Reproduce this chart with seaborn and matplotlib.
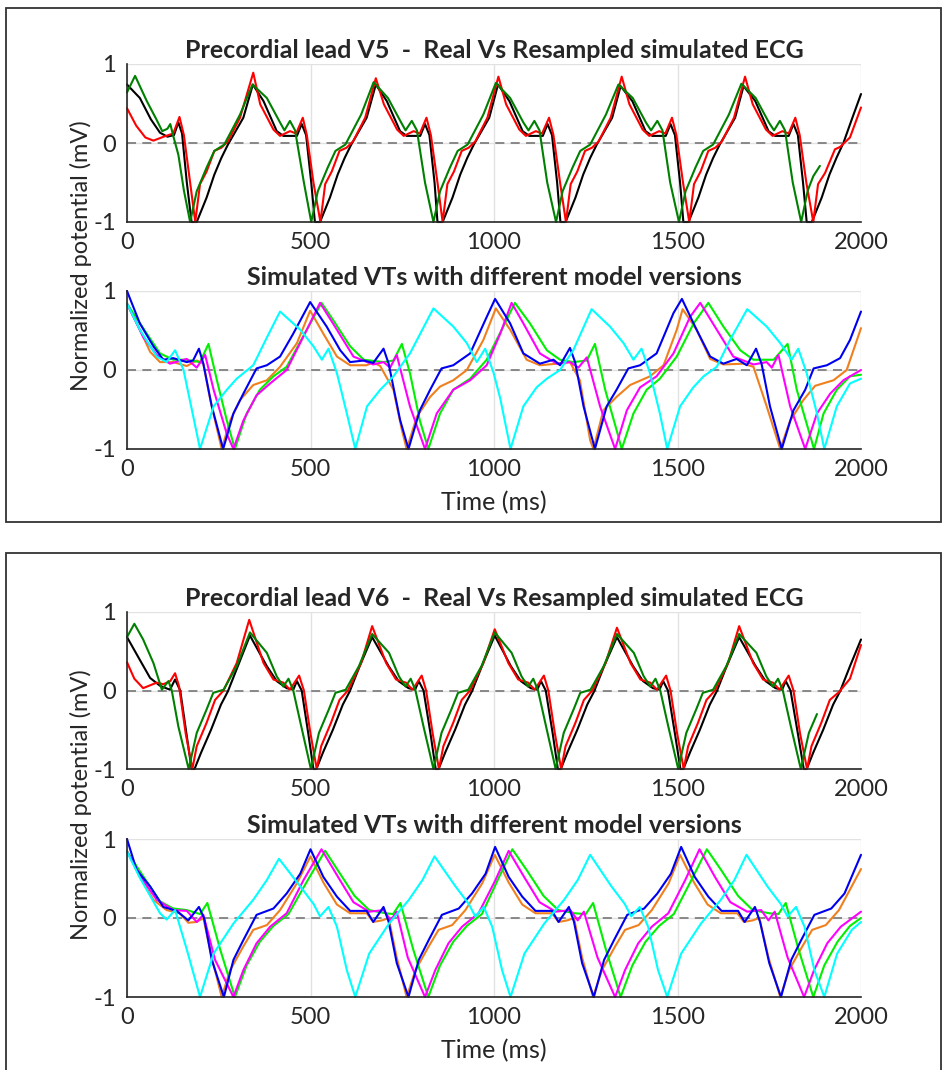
import pandas as pd
import seaborn as sns
import matplotlib.pyplot as plt
from matplotlib.patches import Rectangle

# ---- lead V5, real vs resampled simulated ECG (time ms, normalized mV) ----
V5_BLACK = [(0, 0.74), (35, 0.57), (65, 0.30), (90, 0.13), (110, 0.08), (128, 0.10), (140, 0.26), (150, 0.12), (163, -0.50), (176, -1.00), (190, -1.00),
            (217, -0.69), (238, -0.40), (257, -0.19), (275, -0.02), (317, 0.32), (343, 0.74), (372, 0.53), (408, 0.15), (426, 0.09), (463, 0.09), (476, 0.24), (488, 0.10), (502, -0.50), (512, -1.00), (526, -1.00),
            (553, -0.69), (574, -0.40), (593, -0.19), (611, -0.02), (653, 0.32), (678, 0.74), (708, 0.53), (744, 0.15), (762, 0.09), (799, 0.09), (812, 0.24), (824, 0.10), (838, -0.50), (846, -1.00), (860, -1.00),
            (887, -0.69), (908, -0.40), (927, -0.19), (945, -0.02), (987, 0.32), (1011, 0.74), (1042, 0.53), (1078, 0.15), (1096, 0.09), (1133, 0.09), (1146, 0.24), (1158, 0.10), (1172, -0.50), (1181, -1.00), (1195, -1.00),
            (1222, -0.69), (1243, -0.40), (1262, -0.19), (1280, -0.02), (1322, 0.32), (1345, 0.72), (1377, 0.53), (1413, 0.15), (1431, 0.09), (1468, 0.09), (1481, 0.24), (1493, 0.10), (1507, -0.50), (1516, -1.00), (1530, -1.00),
            (1557, -0.69), (1578, -0.40), (1597, -0.19), (1615, -0.02), (1657, 0.32), (1680, 0.72), (1712, 0.53), (1748, 0.15), (1766, 0.09), (1803, 0.09), (1816, 0.24), (1828, 0.10), (1842, -0.50), (1852, -1.00), (1866, -1.00),
            (1893, -0.69), (1914, -0.40), (1933, -0.19), (1952, 0.00), (1975, 0.30), (2000, 0.62)]
V5_RED = [(0, 0.44), (25, 0.22), (50, 0.07), (72, 0.03), (100, 0.08), (126, 0.12), (143, 0.33), (155, 0.10), (172, -0.50), (186, -1.00),
          (199, -0.52), (217, -0.36), (238, -0.10), (257, -0.06), (275, 0.02), (308, 0.32), (344, 0.89), (363, 0.49), (399, 0.17), (417, 0.09), (444, 0.15), (461, 0.12), (479, 0.32), (490, 0.10), (508, -0.50), (527, -1.00),
          (540, -0.52), (558, -0.36), (579, -0.10), (598, -0.06), (616, 0.02), (649, 0.32), (678, 0.82), (700, 0.49), (736, 0.17), (754, 0.09), (781, 0.15), (798, 0.12), (816, 0.32), (828, 0.10), (846, -0.50), (860, -1.00),
          (873, -0.52), (891, -0.36), (912, -0.10), (931, -0.06), (949, 0.02), (982, 0.32), (1012, 0.84), (1033, 0.49), (1069, 0.17), (1087, 0.09), (1114, 0.15), (1131, 0.12), (1150, 0.32), (1162, 0.10), (1180, -0.50), (1196, -1.00),
          (1209, -0.52), (1227, -0.36), (1248, -0.10), (1267, -0.06), (1285, 0.02), (1318, 0.32), (1348, 0.84), (1369, 0.49), (1405, 0.17), (1423, 0.09), (1450, 0.15), (1467, 0.12), (1485, 0.32), (1497, 0.10), (1515, -0.50), (1532, -1.00),
          (1545, -0.52), (1563, -0.36), (1584, -0.10), (1603, -0.06), (1621, 0.02), (1654, 0.32), (1684, 0.84), (1705, 0.49), (1741, 0.17), (1759, 0.09), (1786, 0.15), (1803, 0.12), (1821, 0.32), (1833, 0.10), (1851, -0.50), (1870, -1.00),
          (1883, -0.52), (1902, -0.38), (1929, -0.08), (1943, -0.05), (1970, 0.07), (2000, 0.45)]
V5_GREEN = [(0, 0.64), (22, 0.85), (54, 0.53), (80, 0.30), (96, 0.15), (110, 0.18), (118, 0.24), (126, 0.09), (140, -0.15), (155, -0.60), (172, -1.00),
            (190, -0.61), (217, -0.31), (238, -0.10), (265, -0.02), (308, 0.36), (342, 0.74), (381, 0.57), (417, 0.26), (429, 0.16), (444, 0.28), (458, 0.16), (482, -0.50), (502, -1.00),
            (520, -0.61), (547, -0.31), (568, -0.10), (595, -0.02), (638, 0.36), (672, 0.77), (711, 0.57), (747, 0.26), (759, 0.16), (776, 0.28), (790, 0.16), (812, -0.50), (835, -1.00),
            (853, -0.61), (880, -0.31), (901, -0.10), (928, -0.02), (971, 0.36), (1005, 0.76), (1044, 0.57), (1080, 0.26), (1094, 0.16), (1110, 0.28), (1124, 0.16), (1145, -0.50), (1169, -1.00),
            (1187, -0.61), (1214, -0.31), (1235, -0.10), (1262, -0.02), (1305, 0.36), (1339, 0.74), (1378, 0.57), (1414, 0.26), (1428, 0.16), (1445, 0.28), (1459, 0.16), (1480, -0.50), (1504, -1.00),
            (1522, -0.61), (1549, -0.31), (1570, -0.10), (1597, -0.02), (1640, 0.36), (1674, 0.75), (1713, 0.57), (1749, 0.26), (1763, 0.16), (1779, 0.28), (1793, 0.16), (1814, -0.50), (1837, -1.00),
            (1855, -0.60), (1870, -0.42), (1888, -0.29)]

# ---- lead V5, simulated VTs with different model versions ----
V5_BLUE = [(0, 1.00), (35, 0.59), (72, 0.30), (99, 0.13), (126, 0.15), (163, 0.10), (180, 0.12), (196, 0.27), (208, 0.08), (231, -0.46), (262, -1.00),
           (290, -0.55), (317, -0.30), (353, 0.02), (381, 0.06), (417, 0.17), (453, 0.46), (499, 0.86), (544, 0.55), (581, 0.25), (608, 0.10), (645, 0.12), (671, 0.09), (699, 0.27), (713, 0.08), (744, -0.63), (767, -1.00),
           (798, -0.51), (826, -0.25), (857, 0.02), (889, 0.06), (935, 0.21), (980, 0.67), (1003, 0.90), (1044, 0.59), (1080, 0.21), (1125, 0.08), (1162, 0.13), (1180, 0.06), (1207, 0.28), (1221, 0.10), (1244, -0.46), (1275, -1.00),
           (1307, -0.46), (1334, -0.25), (1366, 0.02), (1398, 0.06), (1443, 0.21), (1489, 0.72), (1512, 0.90), (1552, 0.51), (1589, 0.17), (1625, 0.08), (1661, 0.14), (1689, 0.06), (1714, 0.27), (1729, 0.08), (1752, -0.46), (1784, -1.00),
           (1816, -0.51), (1848, -0.25), (1871, 0.02), (1907, 0.06), (1943, 0.15), (1970, 0.38), (2000, 0.74)]
V5_ORANGE = [(0, 0.84), (35, 0.51), (63, 0.23), (90, 0.10), (126, 0.10), (163, 0.05), (190, 0.12), (208, 0.08), (227, -0.38), (258, -1.00),
             (281, -0.64), (308, -0.38), (344, -0.19), (381, -0.13), (417, 0.04), (463, 0.34), (499, 0.75), (535, 0.46), (572, 0.17), (608, 0.06), (653, 0.06), (671, 0.10), (690, 0.05), (726, -0.25), (749, -0.76), (762, -1.00),
             (790, -0.59), (826, -0.34), (853, -0.21), (889, -0.13), (926, 0.00), (971, 0.38), (1005, 0.78), (1044, 0.51), (1089, 0.13), (1125, 0.06), (1171, 0.08), (1207, 0.10), (1234, -0.13), (1262, -0.89), (1271, -1.00),
             (1298, -0.51), (1334, -0.34), (1371, -0.19), (1425, -0.08), (1462, 0.06), (1498, 0.51), (1514, 0.77), (1552, 0.51), (1589, 0.14), (1625, 0.07), (1680, 0.08), (1707, 0.04), (1743, -0.46), (1780, -1.00),
             (1807, -0.64), (1843, -0.38), (1875, -0.20), (1925, -0.13), (1961, 0.00), (2000, 0.53)]
V5_MAGENTA = [(0, 0.84), (44, 0.42), (81, 0.19), (117, 0.08), (163, 0.14), (190, 0.03), (213, 0.19), (236, -0.25), (272, -0.81), (290, -1.00),
              (317, -0.64), (353, -0.32), (390, -0.17), (435, 0.00), (490, 0.51), (526, 0.85), (572, 0.51), (617, 0.17), (671, 0.07), (699, 0.10), (717, 0.03), (735, 0.19), (771, -0.46), (812, -1.00),
              (844, -0.55), (889, -0.25), (935, -0.13), (980, 0.06), (1017, 0.46), (1048, 0.85), (1080, 0.59), (1125, 0.21), (1171, 0.08), (1207, 0.10), (1230, 0.03), (1253, 0.16), (1289, -0.46), (1330, -1.00),
              (1362, -0.51), (1398, -0.22), (1443, -0.08), (1489, 0.21), (1534, 0.67), (1562, 0.85), (1607, 0.51), (1652, 0.17), (1707, 0.07), (1743, 0.10), (1757, 0.03), (1775, 0.19), (1807, -0.46), (1848, -1.00),
              (1880, -0.55), (1916, -0.30), (1952, -0.13), (2000, 0.00)]
V5_LIME = [(0, 0.84), (54, 0.46), (90, 0.21), (126, 0.13), (163, 0.13), (199, 0.10), (222, 0.33), (245, -0.13), (272, -0.64), (294, -1.00),
           (326, -0.55), (362, -0.25), (399, -0.08), (435, 0.04), (490, 0.51), (530, 0.85), (562, 0.63), (608, 0.30), (645, 0.13), (699, 0.10), (726, 0.12), (749, 0.33), (771, -0.04), (798, -0.64), (821, -1.00),
           (853, -0.55), (889, -0.25), (935, -0.11), (980, 0.13), (1020, 0.50), (1057, 0.85), (1098, 0.59), (1144, 0.25), (1180, 0.13), (1216, 0.10), (1253, 0.12), (1275, 0.33), (1303, -0.25), (1334, -0.76), (1348, -1.00),
           (1380, -0.55), (1416, -0.25), (1452, -0.11), (1498, 0.17), (1544, 0.59), (1584, 0.85), (1625, 0.55), (1671, 0.25), (1707, 0.13), (1762, 0.13), (1800, 0.33), (1825, -0.25), (1857, -0.76), (1872, -1.00),
           (1898, -0.55), (1934, -0.25), (1970, -0.08), (2000, -0.06)]
V5_CYAN = [(0, 0.84), (35, 0.51), (81, 0.17), (108, 0.10), (131, 0.25), (154, 0.00), (177, -0.51), (199, -1.00),
           (236, -0.46), (272, -0.25), (299, -0.11), (344, 0.06), (381, 0.41), (417, 0.74), (472, 0.51), (508, 0.30), (531, 0.13), (549, 0.27), (572, -0.04), (599, -0.55), (622, -1.00),
           (654, -0.46), (690, -0.25), (726, -0.08), (771, 0.21), (835, 0.78), (889, 0.55), (926, 0.34), (953, 0.10), (976, 0.27), (999, -0.04), (1017, -0.36), (1045, -1.00),
           (1080, -0.46), (1116, -0.22), (1144, -0.11), (1180, 0.00), (1216, 0.25), (1266, 0.77), (1316, 0.55), (1353, 0.34), (1380, 0.13), (1402, 0.27), (1425, -0.04), (1452, -0.55), (1472, -1.00),
           (1507, -0.46), (1543, -0.22), (1571, -0.08), (1607, 0.04), (1643, 0.38), (1690, 0.77), (1743, 0.55), (1780, 0.34), (1811, 0.13), (1829, 0.27), (1852, -0.04), (1880, -0.55), (1900, -1.00),
           (1934, -0.46), (1970, -0.17), (2000, -0.11)]

# ---- lead V6, real vs resampled simulated ECG ----
V6_BLACK = [(0, 0.68), (35, 0.39), (63, 0.16), (90, 0.06), (117, 0.01), (131, 0.14), (145, 0.00), (162, -0.55), (176, -1.00), (184, -1.00),
            (202, -0.79), (229, -0.50), (256, -0.18), (275, -0.01), (302, 0.31), (335, 0.70), (381, 0.31), (408, 0.12), (435, 0.03), (453, 0.01), (463, 0.12), (476, 0.00), (494, -0.55), (508, -1.00), (516, -1.00),
            (534, -0.79), (561, -0.50), (588, -0.18), (607, -0.01), (634, 0.31), (668, 0.68), (713, 0.31), (740, 0.12), (767, 0.03), (785, 0.01), (795, 0.12), (808, 0.00), (827, -0.55), (841, -1.00), (849, -1.00),
            (867, -0.79), (894, -0.50), (921, -0.18), (940, -0.01), (967, 0.31), (1002, 0.70), (1046, 0.31), (1073, 0.12), (1100, 0.03), (1118, 0.01), (1128, 0.12), (1141, 0.00), (1160, -0.55), (1174, -1.00), (1182, -1.00),
            (1200, -0.79), (1227, -0.50), (1254, -0.18), (1273, -0.01), (1300, 0.31), (1335, 0.68), (1379, 0.31), (1406, 0.12), (1433, 0.03), (1451, 0.01), (1461, 0.12), (1474, 0.00), (1493, -0.55), (1508, -1.00), (1516, -1.00),
            (1534, -0.79), (1561, -0.50), (1588, -0.18), (1607, -0.01), (1634, 0.31), (1668, 0.68), (1713, 0.31), (1740, 0.12), (1767, 0.03), (1785, 0.01), (1795, 0.12), (1808, 0.00), (1828, -0.55), (1844, -1.00), (1852, -1.00),
            (1870, -0.79), (1897, -0.50), (1924, -0.18), (1943, -0.01), (1970, 0.31), (2000, 0.65)]
V6_RED = [(0, 0.36), (20, 0.15), (44, 0.03), (81, 0.10), (99, 0.08), (118, 0.12), (131, 0.22), (142, 0.05), (160, -0.55), (178, -1.00),
          (190, -0.71), (217, -0.41), (240, -0.12), (263, 0.00), (299, 0.35), (333, 0.90), (372, 0.35), (399, 0.14), (426, 0.10), (444, 0.01), (469, 0.19), (482, 0.00), (500, -0.55), (517, -1.00),
          (529, -0.71), (556, -0.41), (579, -0.12), (602, 0.00), (638, 0.35), (668, 0.82), (706, 0.35), (733, 0.14), (760, 0.10), (778, 0.01), (803, 0.19), (815, 0.00), (833, -0.55), (850, -1.00),
          (862, -0.71), (889, -0.41), (912, -0.12), (935, 0.00), (971, 0.35), (1002, 0.78), (1039, 0.35), (1066, 0.14), (1093, 0.10), (1111, 0.01), (1136, 0.19), (1148, 0.00), (1166, -0.55), (1183, -1.00),
          (1195, -0.71), (1222, -0.41), (1245, -0.12), (1268, 0.00), (1304, 0.35), (1335, 0.80), (1372, 0.35), (1399, 0.14), (1426, 0.10), (1444, 0.01), (1469, 0.19), (1481, 0.00), (1499, -0.55), (1517, -1.00),
          (1529, -0.71), (1556, -0.41), (1579, -0.12), (1602, 0.00), (1638, 0.35), (1668, 0.82), (1706, 0.35), (1733, 0.14), (1760, 0.10), (1778, 0.01), (1803, 0.19), (1816, 0.00), (1834, -0.55), (1853, -1.00),
          (1865, -0.71), (1892, -0.41), (1915, -0.12), (1940, -0.02), (1970, 0.15), (2000, 0.58)]
V6_GREEN = [(0, 0.68), (20, 0.85), (44, 0.65), (72, 0.35), (95, 0.01), (113, 0.12), (122, 0.00), (140, -0.46), (168, -1.00),
            (190, -0.54), (217, -0.24), (235, -0.03), (263, 0.01), (299, 0.31), (335, 0.74), (381, 0.48), (408, 0.18), (426, 0.05), (440, 0.15), (453, 0.00), (475, -0.46), (501, -1.00),
            (523, -0.54), (550, -0.24), (568, -0.03), (596, 0.01), (632, 0.31), (668, 0.72), (714, 0.48), (741, 0.18), (759, 0.05), (773, 0.15), (786, 0.00), (808, -0.46), (835, -1.00),
            (857, -0.54), (884, -0.24), (902, -0.03), (930, 0.01), (966, 0.31), (1002, 0.74), (1048, 0.48), (1075, 0.18), (1093, 0.05), (1107, 0.15), (1120, 0.00), (1142, -0.46), (1168, -1.00),
            (1190, -0.54), (1217, -0.24), (1235, -0.03), (1263, 0.01), (1299, 0.31), (1335, 0.72), (1381, 0.48), (1408, 0.18), (1426, 0.05), (1440, 0.15), (1453, 0.00), (1475, -0.46), (1502, -1.00),
            (1524, -0.54), (1551, -0.24), (1569, -0.03), (1597, 0.01), (1633, 0.31), (1668, 0.72), (1715, 0.48), (1742, 0.18), (1760, 0.05), (1774, 0.15), (1787, 0.00), (1809, -0.46), (1836, -1.00),
            (1858, -0.54), (1880, -0.30)]

# ---- lead V6, simulated VTs with different model versions ----
V6_BLUE = [(0, 1.00), (26, 0.61), (63, 0.40), (99, 0.14), (135, 0.09), (167, -0.03), (196, 0.14), (210, 0.00), (231, -0.53), (264, -1.00),
           (290, -0.53), (317, -0.28), (353, 0.04), (399, 0.12), (435, 0.31), (472, 0.56), (500, 0.87), (535, 0.52), (572, 0.27), (608, 0.09), (653, 0.09), (671, -0.05), (699, 0.14), (713, -0.05), (735, -0.57), (767, -1.00),
           (795, -0.53), (822, -0.28), (858, 0.04), (904, 0.12), (940, 0.31), (977, 0.56), (1003, 0.90), (1040, 0.52), (1077, 0.27), (1113, 0.09), (1158, 0.09), (1176, -0.05), (1204, 0.14), (1218, -0.05), (1240, -0.57), (1272, -1.00),
           (1300, -0.53), (1327, -0.28), (1363, 0.04), (1409, 0.12), (1445, 0.31), (1482, 0.56), (1510, 0.90), (1547, 0.52), (1584, 0.27), (1620, 0.09), (1665, 0.09), (1683, -0.05), (1711, 0.14), (1725, -0.05), (1750, -0.57), (1782, -1.00),
           (1810, -0.53), (1837, -0.28), (1873, 0.04), (1919, 0.12), (1955, 0.31), (2000, 0.80)]
V6_ORANGE = [(0, 0.85), (35, 0.52), (72, 0.23), (108, 0.10), (144, 0.06), (167, -0.06), (190, -0.05), (208, 0.00), (231, -0.50), (258, -1.00),
             (281, -0.66), (317, -0.36), (344, -0.15), (381, -0.09), (417, 0.10), (463, 0.44), (500, 0.78), (535, 0.45), (572, 0.17), (608, 0.06), (653, 0.06), (671, -0.05), (695, -0.03), (713, 0.00), (735, -0.50), (762, -1.00),
             (786, -0.66), (822, -0.36), (849, -0.15), (886, -0.09), (922, 0.10), (968, 0.44), (1002, 0.80), (1040, 0.45), (1077, 0.17), (1113, 0.06), (1158, 0.06), (1176, -0.05), (1200, -0.03), (1218, 0.00), (1240, -0.50), (1270, -1.00),
             (1294, -0.66), (1330, -0.36), (1357, -0.15), (1394, -0.09), (1430, 0.10), (1476, 0.44), (1507, 0.80), (1545, 0.45), (1582, 0.17), (1618, 0.06), (1663, 0.06), (1681, -0.05), (1705, -0.03), (1723, 0.00), (1748, -0.50), (1780, -1.00),
             (1804, -0.66), (1840, -0.36), (1867, -0.15), (1904, -0.09), (1940, 0.10), (2000, 0.62)]
V6_MAGENTA = [(0, 0.84), (44, 0.48), (81, 0.23), (126, 0.10), (163, 0.09), (190, -0.05), (208, 0.04), (240, -0.53), (290, -1.00),
              (317, -0.66), (353, -0.32), (390, -0.11), (435, 0.06), (481, 0.48), (530, 0.87), (575, 0.52), (617, 0.20), (660, 0.08), (700, 0.10), (718, -0.03), (735, 0.08), (765, -0.50), (812, -1.00),
              (840, -0.66), (876, -0.32), (913, -0.11), (958, 0.06), (1004, 0.48), (1040, 0.85), (1082, 0.52), (1124, 0.20), (1168, 0.08), (1208, 0.10), (1228, -0.03), (1245, 0.08), (1282, -0.50), (1330, -1.00),
              (1357, -0.66), (1393, -0.32), (1430, -0.11), (1475, 0.06), (1521, 0.48), (1560, 0.87), (1602, 0.52), (1644, 0.20), (1690, 0.08), (1728, 0.10), (1748, -0.03), (1765, 0.08), (1800, -0.50), (1845, -1.00),
              (1872, -0.66), (1908, -0.32), (1945, -0.11), (2000, 0.08)]
V6_LIME = [(0, 0.84), (54, 0.46), (90, 0.21), (126, 0.12), (163, 0.10), (199, 0.05), (219, 0.19), (254, -0.40), (294, -1.00),
           (326, -0.60), (362, -0.30), (399, -0.10), (440, 0.05), (495, 0.50), (540, 0.85), (575, 0.60), (620, 0.28), (660, 0.10), (705, 0.06), (725, 0.05), (745, 0.19), (780, -0.40), (821, -1.00),
           (853, -0.60), (889, -0.30), (926, -0.10), (967, 0.05), (1010, 0.48), (1050, 0.87), (1090, 0.60), (1135, 0.28), (1175, 0.10), (1220, 0.06), (1250, 0.05), (1270, 0.19), (1305, -0.40), (1345, -1.00),
           (1377, -0.60), (1413, -0.30), (1450, -0.10), (1490, 0.05), (1540, 0.50), (1580, 0.87), (1620, 0.60), (1665, 0.28), (1705, 0.10), (1750, 0.06), (1775, 0.05), (1795, 0.19), (1830, -0.40), (1870, -1.00),
           (1900, -0.60), (1936, -0.30), (1970, -0.10), (2000, 0.00)]
V6_CYAN = [(0, 0.84), (35, 0.51), (90, 0.06), (108, -0.02), (131, 0.10), (163, -0.40), (199, -1.00),
           (236, -0.45), (290, -0.07), (344, 0.23), (381, 0.48), (414, 0.75), (472, 0.40), (508, 0.18), (526, 0.02), (549, 0.14), (572, -0.11), (599, -0.66), (622, -1.00),
           (660, -0.45), (714, -0.07), (768, 0.23), (805, 0.48), (838, 0.78), (895, 0.40), (931, 0.18), (949, 0.02), (972, 0.14), (995, -0.11), (1022, -0.66), (1045, -1.00),
           (1083, -0.45), (1137, -0.07), (1191, 0.23), (1228, 0.48), (1262, 0.80), (1320, 0.40), (1356, 0.18), (1374, 0.02), (1397, 0.14), (1420, -0.11), (1447, -0.66), (1472, -1.00),
           (1510, -0.45), (1564, -0.07), (1618, 0.23), (1655, 0.48), (1688, 0.80), (1745, 0.40), (1781, 0.18), (1800, 0.02), (1823, 0.14), (1846, -0.11), (1873, -0.66), (1900, -1.00),
           (1935, -0.45), (1975, -0.15), (2000, -0.05)]

TITLES = ["Precordial lead V5  -  Real Vs Resampled simulated ECG",
          "Simulated VTs with different model versions",
          "Precordial lead V6  -  Real Vs Resampled simulated ECG",
          "Simulated VTs with different model versions"]
XTICKS = [0, 500, 1000, 1500, 2000]
YTICKS = [-1, 0, 1]

COLORS = {"black": "#000000", "red": "#ff0000", "green": "#008000",
          "orange": "#f0801e", "lime": "#00f000", "magenta": "#ff00ff",
          "blue": "#0000f0", "cyan": "#00ffff"}

panels = [
    {"black": V5_BLACK, "red": V5_RED, "green": V5_GREEN},
    {"orange": V5_ORANGE, "lime": V5_LIME, "magenta": V5_MAGENTA, "blue": V5_BLUE, "cyan": V5_CYAN},
    {"black": V6_BLACK, "red": V6_RED, "green": V6_GREEN},
    {"orange": V6_ORANGE, "lime": V6_LIME, "magenta": V6_MAGENTA, "blue": V6_BLUE, "cyan": V6_CYAN},
]

sns.set_style("white")
plt.rcParams['font.family'] = ['Lato', 'DejaVu Sans']
plt.rcParams['axes.unicode_minus'] = False

W, H = 944, 1070
fig = plt.figure(figsize=(W / 100, H / 100), dpi=100)

# axes boxes in pixels: (top, bottom)
ax_px = [(64, 222), (291, 449), (612, 769), (839, 997)]
left_px, right_px = 127, 861

for i, (lines, title) in enumerate(zip(panels, TITLES)):
    top, bot = ax_px[i]
    ax = fig.add_axes([left_px / W, 1 - bot / H, (right_px - left_px) / W, (bot - top) / H])

    df = pd.DataFrame([(t, v, name) for name, pts in lines.items() for t, v in pts],
                      columns=["t", "v", "line"])
    ax.axhline(0, color="#808080", ls=(0, (5, 3.5)), lw=1.3, zorder=1)
    sns.lineplot(data=df, x="t", y="v", hue="line", hue_order=list(lines.keys()),
                 palette=COLORS, sort=False, estimator=None, legend=False,
                 lw=1.5, ax=ax)
    for ln in ax.lines:
        ln.set_clip_on(False)
        ln.set_solid_joinstyle("round")

    ax.set_xlim(0, 2000)
    ax.set_ylim(-1, 1)
    ax.set_xticks(XTICKS)
    ax.set_yticks(YTICKS)
    ax.grid(True, color="#e2e2e2", lw=1)
    ax.set_axisbelow(True)
    for s in ["top", "right"]:
        ax.spines[s].set_visible(False)
    for s in ["left", "bottom"]:
        ax.spines[s].set_color("#262626")
        ax.spines[s].set_linewidth(1.2)
    ax.tick_params(direction="in", length=5, width=1.2, labelsize=17,
                   colors="#262626", labelcolor="#262626")
    ax.tick_params(axis="x", pad=7)
    ax.tick_params(axis="y", pad=8)
    ax.set_title(title, fontsize=18, fontweight="bold", pad=4)
    ax.set_ylabel("")
    if i % 2 == 1:
        ax.set_xlabel("Time (ms)", fontsize=18, labelpad=8, color="#262626")
    else:
        ax.set_xlabel("")

# shared y labels
fig.text(81 / W, 1 - 256 / H, "Normalized potential (mV)", rotation=90,
         ha="center", va="center", fontsize=17, color="#262626")
fig.text(81 / W, 1 - 805 / H, "Normalized potential (mV)", rotation=90,
         ha="center", va="center", fontsize=17, color="#262626")

# frames around each pair of panels
fig.patches.append(Rectangle((6 / W, 1 - 522 / H), 935 / W, 514 / H, transform=fig.transFigure,
                             fill=False, edgecolor="#333333", lw=1.3))
fig.patches.append(Rectangle((6 / W, -0.02), 935 / W, 0.02 + (1070 - 553) / H, transform=fig.transFigure,
                             fill=False, edgecolor="#333333", lw=1.3))

fig.savefig("out.png", dpi=100)
